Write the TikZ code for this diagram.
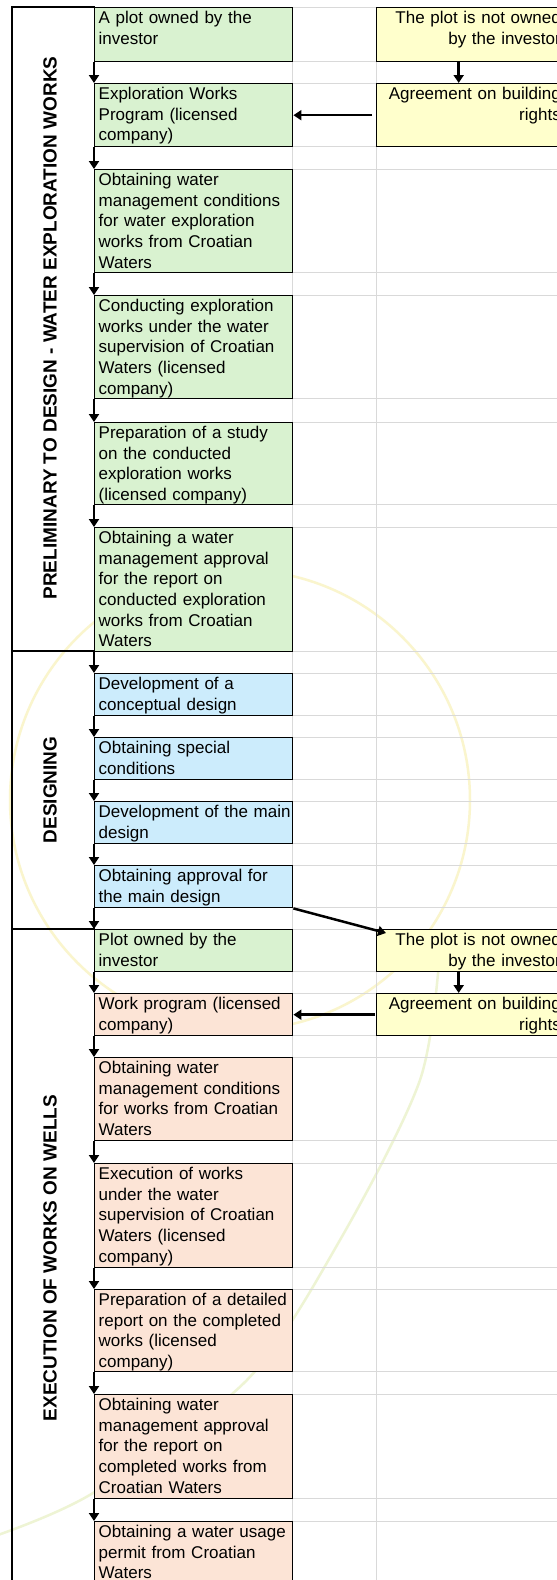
\documentclass[tikz,border=0pt]{standalone}
\usepackage{fontspec}
\setmainfont{Liberation Sans}
\usetikzlibrary{arrows.meta}
\definecolor{bgreen}{RGB}{217,242,208}
\definecolor{bblue}{RGB}{204,236,252}
\definecolor{bsalmon}{RGB}{252,228,214}
\definecolor{byellow}{RGB}{255,255,204}
\definecolor{gridgray}{RGB}{217,217,217}
\definecolor{wmark}{RGB}{250,245,205}
\definecolor{wmarkg}{RGB}{238,244,212}
\newcommand\flowbox[5]{%
  \node[stepbox, fill=#4, minimum height=#3pt] (#1) at (94,#2) {};
  \node[txt] (#1t) at ([xshift=4.5pt,yshift=-16.5pt]#1.north west) {#5};
}
\newcommand\sidebox[4]{%
  \node[stepbox, fill=byellow, minimum width=230pt, minimum height=#3pt] (#1) at (376,#2) {};
  \node[ytxt] (#1t) at ([yshift=-16.5pt]561,#2) {#4};
}
\begin{document}
\begin{tikzpicture}[x=1pt,y=-1pt,
  stepbox/.style={draw=black, line width=1.4pt, minimum width=198pt, inner sep=0pt, anchor=north west},
  txt/.style={font=\fontsize{17}{20.65}\selectfont, text width=200pt, align=left, inner sep=0pt, anchor=base west},
  ytxt/.style={font=\fontsize{17}{20.65}\selectfont, text width=190pt, align=right, inner sep=0pt, anchor=base east},
  flow/.style={line width=2.5pt, -{Triangle[width=10pt,length=8pt]}},
  phase/.style={font=\fontsize{19}{21}\selectfont\bfseries, rotate=90, inner sep=0pt},
  gridline/.style={draw=gridgray, line width=1pt},
  frame/.style={line width=1.5pt, line cap=rect}
]
\useasboundingbox (0,0) rectangle (557,1580);
\clip (0,0) rectangle (557,1580);
\fill[white] (0,0) rectangle (557,1580);
% watermark
\draw[wmark, line width=2.5pt] (240,800) circle[radius=230pt];
\draw[wmarkg, line width=2.5pt] plot[smooth] coordinates {(-5,1536) (93,1493) (247,1380) (340,1240) (420,1080) (440,950)};
% grid
\foreach \yy in {7,61,83,146,169,272,295,398,422,504,527,651,673,715,737,779,801,843,865,907,929,971,993,1035,1057,1140,1163,1267,1289,1371,1394,1498,1521}
  \draw[gridline] (292,\yy) -- (557,\yy);
\draw[gridline] (292,7) -- (292,1580);
\draw[gridline] (376,7) -- (376,1580);
% frame
\draw[frame] (94,7) -- (12,7) -- (12,1585);
\draw[frame] (12,651) -- (94,651);
\draw[frame] (12,929) -- (94,929);
% phase labels
\node[phase] (p1) at (50,328) {PRELIMINARY TO DESIGN - WATER EXPLORATION WORKS};
\node[phase] (p2) at (50,790) {DESIGNING};
\node[phase] (p3) at (50,1258) {EXECUTION OF WORKS ON WELLS};
% boxes
\flowbox{b1}{7}{54}{bgreen}{A plot owned by the\\investor}
\flowbox{b2}{83}{63}{bgreen}{Exploration Works\\Program (licensed\\company)}
\flowbox{b3}{169}{103}{bgreen}{Obtaining water\\management conditions\\for water exploration\\works from Croatian\\Waters}
\flowbox{b4}{295}{103}{bgreen}{Conducting exploration\\works under the water\\supervision of Croatian\\Waters (licensed\\company)}
\flowbox{b5}{422}{82}{bgreen}{Preparation of a study\\on the conducted\\exploration works\\(licensed company)}
\flowbox{b6}{527}{124}{bgreen}{Obtaining a water\\management approval\\for the report on\\conducted exploration\\works from Croatian\\Waters}
\flowbox{b7}{673}{42}{bblue}{Development of a\\conceptual design}
\flowbox{b8}{737}{42}{bblue}{Obtaining special\\conditions}
\flowbox{b9}{801}{42}{bblue}{Development of the main\\design}
\flowbox{b10}{865}{42}{bblue}{Obtaining approval for\\the main design}
\flowbox{b11}{929}{42}{bgreen}{Plot owned by the\\investor}
\flowbox{b12}{993}{42}{bsalmon}{Work program (licensed\\company)}
\flowbox{b13}{1057}{83}{bsalmon}{Obtaining water\\management conditions\\for works from Croatian\\Waters}
\flowbox{b14}{1163}{104}{bsalmon}{Execution of works\\under the water\\supervision of Croatian\\Waters (licensed\\company)}
\flowbox{b15}{1289}{82}{bsalmon}{Preparation of a detailed\\report on the completed\\works (licensed\\company)}
\flowbox{b16}{1394}{104}{bsalmon}{Obtaining water\\management approval\\for the report on\\completed works from\\Croatian Waters}
\flowbox{b17}{1521}{63}{bsalmon}{Obtaining a water usage\\permit from Croatian\\Waters}
% side boxes
\sidebox{y1}{7}{54}{The plot is not owned\\by the investor}
\sidebox{y2}{83}{63}{Agreement on building\\rights}
\sidebox{y3}{929}{42}{The plot is not owned\\by the investor}
\sidebox{y4}{993}{42}{Agreement on building\\rights}
% arrows
\foreach \a/\b in {b1/b2,b2/b3,b3/b4,b4/b5,b5/b6,b6/b7,b7/b8,b8/b9,b9/b10,b10/b11,b11/b12,b12/b13,b13/b14,b14/b15,b15/b16,b16/b17}
  \draw[flow] (\a.south west) -- (\b.north west);
\draw[flow] ([xshift=-33pt]y1.south) -- ([xshift=-33pt]y2.north);
\draw[flow] ([xshift=-33pt]y3.south) -- ([xshift=-33pt]y4.north);
\draw[flow] ([xshift=-4pt]y2.west) -- (b2.east);
\draw[flow] ([xshift=-1pt]y4.west) -- (b12.east);
\draw[flow] (b10.south east) -- ([xshift=10pt,yshift=-4pt]y3.north west);
\end{tikzpicture}
\end{document}
